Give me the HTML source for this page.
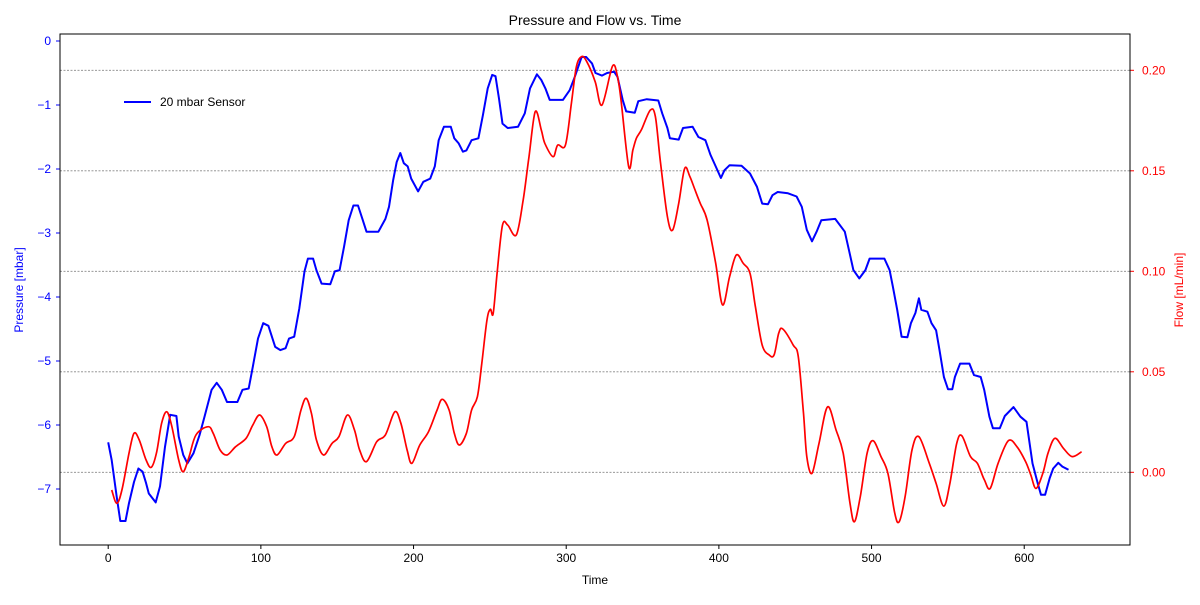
<!DOCTYPE html>
<html><head><meta charset="utf-8"><style>
body{margin:0;background:#fff;}
svg text{font-family:"Liberation Sans","DejaVu Sans",sans-serif;}
</style></head><body>
<svg id="chart" width="1200" height="600" xmlns="http://www.w3.org/2000/svg">
<rect x="0" y="0" width="1200" height="600" fill="#fff"/>
<text x="595" y="25" font-size="14" text-anchor="middle" fill="#000">Pressure and Flow vs. Time</text>
<text x="595" y="584" font-size="12" text-anchor="middle" fill="#000">Time</text>
<text transform="translate(23,290) rotate(-90)" font-size="12" text-anchor="middle" fill="blue">Pressure [mbar]</text>
<text transform="translate(1183,290) rotate(-90)" font-size="12" text-anchor="middle" fill="red">Flow [mL/min]</text>
<g id="grid"></g>
<g id="series"></g>
<g id="axes"></g>
<g>
<line x1="124" y1="102" x2="151" y2="102" stroke="blue" stroke-width="2"/>
<text x="160" y="106" font-size="12" fill="#000">20 mbar Sensor</text>
</g>
</svg>
<script>
const xTicks=[0,100,200,300,400,500,600];
const leftTicks=[0,-1,-2,-3,-4,-5,-6,-7];
const rightTicks=[0.00,0.05,0.10,0.15,0.20];
const rightTickLabels=["0.00","0.05","0.10","0.15","0.20"];
const pressureT=[0,2.3,5.6,7.9,11.3,13.6,16.9,19.8,22.5,24.8,26.6,31.1,33.9,37.2,40.6,44.7,46.2,49.2,51.9,55.9,59.8,63.1,67.7,71.1,74.4,77.8,84.6,88,92,94.7,98.1,101.5,104.9,109.4,112.8,116.2,118.4,121.8,125.2,128.6,130.8,134.2,136.4,139.8,145.5,148.4,151.6,154.5,157.5,160.6,163.6,166.4,169.2,177,181.6,183.9,186.7,189,191.3,193.6,196.2,198.5,203,206.4,210.9,213.9,216.5,219.9,224.4,226.7,229.6,232.3,234.6,238,242.5,245.4,248.6,251.5,253.7,256,258.3,261.7,268.4,272.9,276.3,280.8,283.7,286.4,289.2,297.8,302.2,305.6,310.1,313.1,316.9,319.2,323.4,326.8,331.4,333.6,337,339.3,344.9,347.2,352.8,360.3,362.9,366.3,367.9,373.7,376.5,382.8,386.6,391.2,394.5,397.9,401.3,403.6,407,414.8,420.4,425,428.4,432.2,435.1,438.5,445.3,450.9,454.3,457.6,461,464,467.1,476.2,482.5,485.2,488.1,492,496,498.7,508.4,511.8,514,516.8,519.7,523.5,525.8,528.7,531,532.6,536.6,539.3,542.3,544.5,547.4,550.1,552.9,554.6,558,564.1,567.1,571.5,573.8,577.2,579.5,584,587.3,593,597.5,601.5,605.4,608.8,611,613.7,616.7,619,622.3,625,629];
const pressureV=[-6.27,-6.55,-7.12,-7.5,-7.5,-7.22,-6.89,-6.68,-6.73,-6.91,-7.07,-7.21,-6.96,-6.34,-5.84,-5.86,-6.18,-6.47,-6.6,-6.44,-6.16,-5.87,-5.45,-5.34,-5.45,-5.64,-5.64,-5.45,-5.43,-5.09,-4.65,-4.41,-4.45,-4.78,-4.83,-4.8,-4.65,-4.62,-4.18,-3.6,-3.4,-3.4,-3.58,-3.79,-3.8,-3.6,-3.58,-3.21,-2.8,-2.57,-2.57,-2.77,-2.98,-2.98,-2.78,-2.59,-2.17,-1.89,-1.75,-1.91,-1.96,-2.15,-2.35,-2.2,-2.15,-1.96,-1.55,-1.34,-1.34,-1.52,-1.6,-1.73,-1.71,-1.55,-1.52,-1.16,-0.74,-0.53,-0.55,-0.9,-1.29,-1.36,-1.34,-1.13,-0.74,-0.52,-0.61,-0.74,-0.92,-0.92,-0.77,-0.56,-0.25,-0.25,-0.35,-0.5,-0.54,-0.5,-0.48,-0.56,-0.92,-1.1,-1.12,-0.94,-0.91,-0.93,-1.13,-1.36,-1.52,-1.54,-1.36,-1.34,-1.5,-1.55,-1.78,-1.96,-2.14,-2.02,-1.94,-1.95,-2.07,-2.28,-2.54,-2.55,-2.41,-2.36,-2.38,-2.43,-2.59,-2.95,-3.13,-2.98,-2.8,-2.78,-2.98,-3.27,-3.58,-3.71,-3.58,-3.4,-3.4,-3.58,-3.84,-4.2,-4.62,-4.63,-4.41,-4.25,-4.02,-4.2,-4.23,-4.41,-4.52,-4.83,-5.25,-5.44,-5.44,-5.25,-5.04,-5.04,-5.22,-5.25,-5.45,-5.87,-6.05,-6.05,-5.86,-5.72,-5.87,-5.95,-6.6,-6.91,-7.09,-7.09,-6.83,-6.68,-6.59,-6.65,-6.7];
const flowT=[2.3,5.6,9,13.6,16.9,20.3,24.8,28.2,31.6,35,38.4,41.7,46.2,49.2,53,57.5,65.4,68.8,73.3,77.8,83.4,90.3,94.7,99.2,103.8,107.2,110.6,116.2,121.8,126.3,129.7,133.1,136.4,141,146.6,151.1,156.7,161.3,164.7,169.2,175.9,181.6,187.7,191.7,195.8,198.9,204.1,209.8,215.4,218.8,223.3,226.7,230,234.6,238,241.8,244.7,248.1,250.3,252.2,254.9,258.3,261.7,267.3,271.8,275.6,279.7,283.7,286,291.4,294.4,299.5,303.4,306.7,310.1,313.5,319,323.4,330.3,333.6,335.9,340.9,343.7,346,349.4,355.1,358.4,361.8,366.3,369.7,373.7,377.6,381,384.4,387.8,392.3,397.9,402.4,407,411.4,415.9,420.4,423.9,428.4,432.9,436.2,439.2,441.9,448.7,452,455.4,457.6,461,465.6,471.2,476.8,481.4,485.9,488.8,492.6,497.1,501,506.2,510.7,515.2,518.1,522,526.5,531,537.8,542.3,547.3,551.3,555.8,559.2,564.8,569.3,573.9,577.7,582.9,589.6,595.3,600.9,604.3,607.7,612.2,615.6,620.1,625.7,631.4,637.6];
const flowV=[-0.0088,-0.0154,-0.0088,0.0095,0.0194,0.0161,0.0061,0.0025,0.0095,0.0244,0.0301,0.0227,0.0061,0.0003,0.0078,0.0186,0.0227,0.0194,0.0111,0.0086,0.0127,0.0169,0.0235,0.0285,0.0227,0.0127,0.0086,0.0144,0.0177,0.031,0.0368,0.0294,0.0161,0.0086,0.0144,0.0177,0.0285,0.021,0.0111,0.0053,0.0152,0.0186,0.0301,0.0244,0.0111,0.0045,0.0136,0.0202,0.031,0.0363,0.031,0.0194,0.0136,0.0194,0.031,0.0376,0.0542,0.0758,0.0811,0.0791,0.1006,0.123,0.123,0.1181,0.1355,0.157,0.1794,0.1703,0.1637,0.157,0.1628,0.1628,0.1836,0.2018,0.2068,0.2043,0.1943,0.1827,0.2021,0.1968,0.1852,0.152,0.1604,0.1662,0.1706,0.1802,0.1769,0.1537,0.1272,0.1205,0.1338,0.1512,0.1471,0.1404,0.1338,0.1255,0.104,0.0833,0.0973,0.1081,0.104,0.099,0.0824,0.0633,0.0584,0.0584,0.0692,0.0713,0.0633,0.0575,0.0294,0.0078,-0.0005,0.0144,0.0326,0.021,0.0095,-0.0154,-0.0246,-0.0121,0.0095,0.0157,0.0078,-0.0005,-0.0204,-0.0246,-0.0121,0.0111,0.0177,0.0045,-0.0055,-0.0168,-0.0055,0.0144,0.0181,0.0078,0.0045,-0.0038,-0.008,0.0045,0.0157,0.0127,0.0053,-0.0013,-0.008,-0.0005,0.0095,0.0169,0.0119,0.0078,0.0102];

const NS="http://www.w3.org/2000/svg";
const PL=60,PR=1130,PT=34,PB=545;
const xs=t=>108.2+t*1.5267;
const yl=v=>41-v*64;
const yr=v=>472.3-v*2010;
function mk(tag,attrs,parent){const e=document.createElementNS(NS,tag);for(const k in attrs)e.setAttribute(k,attrs[k]);parent.appendChild(e);return e;}
const grid=document.getElementById('grid'),axes=document.getElementById('axes'),series=document.getElementById('series');

rightTicks.forEach((v,i)=>{
  const g=mk('line',{x1:PL,x2:PR,y1:yr(v),y2:yr(v),stroke:'#888','stroke-width':0.8,'stroke-dasharray':'2,1.5'},grid);
  
  
  const t=mk('line',{x1:PR,x2:PR+4,y1:yr(v),y2:yr(v),stroke:'red'},axes);
  
  
  const l=mk('text',{x:PR+12,y:yr(v)+4,'font-size':12,fill:'red'},axes);
  l.textContent=rightTickLabels[i];
  
  
});
leftTicks.forEach(v=>{
  const t=mk('line',{x1:PL-4,x2:PL,y1:yl(v),y2:yl(v),stroke:'blue'},axes);
  
  
  const l=mk('text',{x:PL-9,y:yl(v)+4,'font-size':12,fill:'blue','text-anchor':'end'},axes);
  l.textContent=(v<0?'\u2212'+(-v):String(v));
  
  
});
xTicks.forEach(v=>{
  const t=mk('line',{x1:xs(v),x2:xs(v),y1:PB,y2:PB+4,stroke:'#000'},axes);
  
  
  const l=mk('text',{x:xs(v),y:PB+17,'font-size':12,fill:'#000','text-anchor':'middle'},axes);
  l.textContent=String(v);
  
  
});
const frame=mk('rect',{x:PL,y:PT,width:PR-PL,height:PB-PT,fill:'none',stroke:'#000','stroke-width':1},axes);



let bd='';
pressureT.forEach((t,i)=>{bd+=(i?'L':'M')+xs(t).toFixed(1)+','+yl(pressureV[i]).toFixed(1);});
const bp=mk('path',{d:bd,fill:'none',stroke:'blue','stroke-width':2,'stroke-linejoin':'round'},series);



const pts=flowT.map((t,i)=>[xs(t),yr(flowV[i])]);
let rd='M'+pts[0][0].toFixed(1)+','+pts[0][1].toFixed(1);
for(let i=0;i<pts.length-1;i++){
  const p0=pts[Math.max(0,i-1)],p1=pts[i],p2=pts[i+1],p3=pts[Math.min(pts.length-1,i+2)];
  const c1=[p1[0]+(p2[0]-p0[0])/6,p1[1]+(p2[1]-p0[1])/6];
  const c2=[p2[0]-(p3[0]-p1[0])/6,p2[1]-(p3[1]-p1[1])/6];
  rd+='C'+c1[0].toFixed(1)+','+c1[1].toFixed(1)+' '+c2[0].toFixed(1)+','+c2[1].toFixed(1)+' '+p2[0].toFixed(1)+','+p2[1].toFixed(1);
}
const rp=mk('path',{d:rd,fill:'none',stroke:'red','stroke-width':1.7,'stroke-linejoin':'round'},series);


</script>
</body></html>
